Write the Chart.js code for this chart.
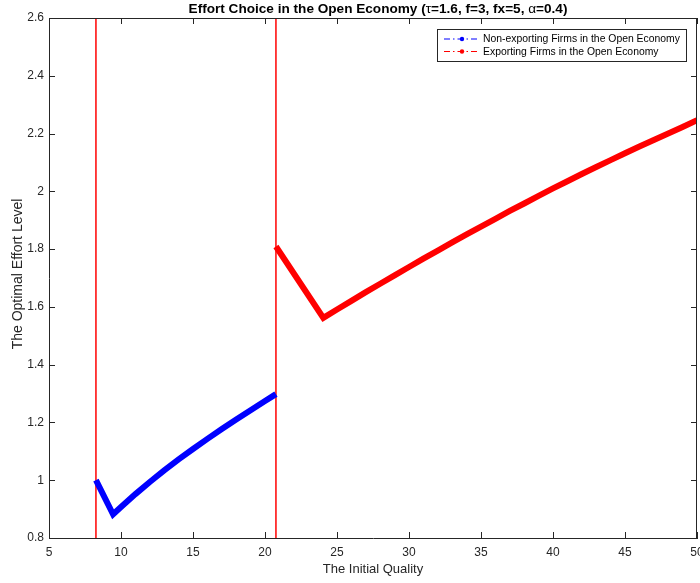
<!DOCTYPE html>
<html lang="en">
  <head>
    <meta charset="UTF-8" />
    <title>Effort Choice in the Open Economy</title>
    <script src="https://cdn.jsdelivr.net/npm/chart.js"></script>
    <style>
      html, body { margin: 0; padding: 0; background: #fff; }
      #wrap { width: 700px; height: 583px; position: relative; }
    </style>
  </head>
  <body>
    <div id="wrap"><canvas id="effortChart" width="700" height="583"></canvas></div>

    <script>
      // cutoffs (initial quality) where firms switch regime
      const cutoffs = [8.26, 20.76];

      // non-exporting firms
      const nonExpX = [8.26, 9.45, 10, 11, 12, 13, 14, 15, 16, 17, 18, 19, 20, 20.76];
      const nonExpY = [1.0, 0.882, 0.907, 0.952, 0.994, 1.034, 1.072, 1.108, 1.143, 1.177, 1.21, 1.242, 1.274, 1.298];

      // exporting firms
      const expX = [20.76, 24.05, 25, 26, 27, 28, 29, 30, 31, 32, 33, 34, 35, 36, 37, 38, 39, 40,
                    41, 42, 43, 44, 45, 46, 47, 48, 49, 50];
      const expY = [1.809, 1.562, 1.591, 1.621, 1.651, 1.68, 1.709, 1.738, 1.767, 1.795, 1.823, 1.851, 1.878,
                    1.905, 1.932, 1.958, 1.984, 2.01, 2.035, 2.06, 2.084, 2.108, 2.132, 2.155, 2.178,
                    2.2, 2.223, 2.246];

      const xTicks = [5, 10, 15, 20, 25, 30, 35, 40, 45, 50];
      const yTicks = [0.8, 1, 1.2, 1.4, 1.6, 1.8, 2, 2.2, 2.4, 2.6];

      const seriesNames = ['Non-exporting Firms in the Open Economy', 'Exporting Firms in the Open Economy'];
      const FONT = '"Liberation Sans", Arial, sans-serif';
      const AX = '#262626';

      const toPts = (xs, ys) => xs.map((x, i) => ({ x: x, y: ys[i] }));

      // vertical cutoff lines, drawn as two point datasets
      const cutoffSets = cutoffs.map(c => ({
        data: [{ x: c, y: 0.8 }, { x: c, y: 2.6 }],
        borderColor: '#ff0000',
        borderWidth: 1.5,
        pointRadius: 0,
        showLine: true,
        order: 2
      }));

      // inward ticks, box, titles and legend (MATLAB look)
      const matlabBits = {
        id: 'matlabBits',
        afterDraw(chart) {
          const c = chart.ctx;
          const a = chart.chartArea;
          const xs = chart.scales.x, ys = chart.scales.y;
          c.save();
          c.strokeStyle = AX;
          c.lineWidth = 1;
          c.beginPath();
          c.moveTo(a.left, a.top + 0.5); c.lineTo(a.right, a.top + 0.5);
          c.moveTo(a.right - 0.5, a.top); c.lineTo(a.right - 0.5, a.bottom);
          xTicks.forEach(v => {
            const px = Math.round(xs.getPixelForValue(v)) + 0.5;
            c.moveTo(px, a.bottom); c.lineTo(px, a.bottom - 6);
            c.moveTo(px, a.top); c.lineTo(px, a.top + 6);
          });
          yTicks.forEach(v => {
            const py = Math.round(ys.getPixelForValue(v)) + 0.5;
            c.moveTo(a.left, py); c.lineTo(a.left + 6, py);
            c.moveTo(a.right, py); c.lineTo(a.right - 6, py);
          });
          c.stroke();

          // title with greek letters in normal weight
          const parts = [
            ['bold', 'Effort Choice in the Open Economy ('],
            ['normal', 'τ'],
            ['bold', '=1.6, f=3, fx=5, '],
            ['normal', 'α'],
            ['bold', '=0.4)']
          ];
          const tSize = ' 13.6px ';
          let total = 0;
          parts.forEach(p => { c.font = p[0] + tSize + FONT; total += c.measureText(p[1]).width; });
          let tx = (a.left + a.right) / 2 - total / 2 + 5;
          c.fillStyle = '#000';
          c.textBaseline = 'middle';
          c.textAlign = 'left';
          parts.forEach(p => {
            c.font = p[0] + tSize + FONT;
            c.fillText(p[1], tx, 9);
            tx += c.measureText(p[1]).width;
          });

          // axis titles
          c.fillStyle = AX;
          c.font = '13px ' + FONT;
          c.textAlign = 'center';
          c.fillText('The Initial Quality', (a.left + a.right) / 2, 569);
          c.save();
          c.font = '14px ' + FONT;
          c.translate(18, 274);
          c.rotate(-Math.PI / 2);
          c.fillText('The Optimal Effort Level', 0, 0);
          c.restore();

          // legend
          const lx = 437, ly = 29, lw = 249, lh = 32;
          c.fillStyle = '#fff';
          c.fillRect(lx, ly, lw, lh);
          c.strokeStyle = '#262626';
          c.lineWidth = 1;
          c.strokeRect(lx + 0.5, ly + 0.5, lw, lh);
          const cols = ['#0000ff', '#ff0000'];
          seriesNames.forEach((name, i) => {
            const yy = ly + 10 + i * 12.5;
            c.strokeStyle = cols[i];
            c.lineWidth = 1.2;
            c.setLineDash([6, 3, 1.5, 3]);
            c.beginPath();
            c.moveTo(444, yy); c.lineTo(480, yy);
            c.stroke();
            c.setLineDash([]);
            c.fillStyle = cols[i];
            c.beginPath();
            c.arc(462, yy, 2.2, 0, Math.PI * 2);
            c.fill();
            c.fillStyle = '#000';
            c.font = '10.4px ' + FONT;
            c.textAlign = 'left';
            c.fillText(name, 483, yy + 0.5);
          });
          c.restore();
        }
      };

      const ctx = document.getElementById('effortChart').getContext('2d');
      new Chart(ctx, {
        type: 'scatter',
        data: {
          datasets: [
            {
              label: seriesNames[0],
              data: toPts(nonExpX, nonExpY),
              borderColor: '#0000ff',
              backgroundColor: '#0000ff',
              borderWidth: 6,
              pointRadius: 0,
              showLine: true,
              order: 1
            },
            {
              label: seriesNames[1],
              data: toPts(expX, expY),
              borderColor: '#ff0000',
              backgroundColor: '#ff0000',
              borderWidth: 6,
              pointRadius: 0,
              showLine: true,
              order: 1
            },
            ...cutoffSets
          ]
        },
        options: {
          responsive: false,
          animation: false,
          devicePixelRatio: 1,
          layout: { padding: { top: 18, right: 3, left: 0, bottom: 0 } },
          plugins: {
            legend: { display: false },
            tooltip: { enabled: false }
          },
          scales: {
            x: {
              type: 'linear',
              min: 5,
              max: 50,
              afterFit: s => { s.height = 45; s.paddingLeft = 0; s.paddingRight = 0; },
              afterBuildTicks: s => { s.ticks = xTicks.map(v => ({ value: v })); },
              grid: { display: false, drawTicks: false },
              border: { display: true, color: AX, width: 1 },
              ticks: { color: AX, padding: 7, autoSkip: false, maxRotation: 0,
                       font: { family: FONT, size: 12 }, callback: v => String(v) }
            },
            y: {
              type: 'linear',
              min: 0.8,
              max: 2.6,
              afterFit: s => { s.width = 49; s.paddingTop = 0; s.paddingBottom = 0; },
              afterBuildTicks: s => { s.ticks = yTicks.map(v => ({ value: v })); },
              grid: { display: false, drawTicks: false },
              border: { display: true, color: AX, width: 1 },
              ticks: { color: AX, padding: 5, autoSkip: false,
                       font: { family: FONT, size: 12 }, callback: v => String(v) }
            }
          }
        },
        plugins: [matlabBits]
      });
    </script>
  </body>
</html>
